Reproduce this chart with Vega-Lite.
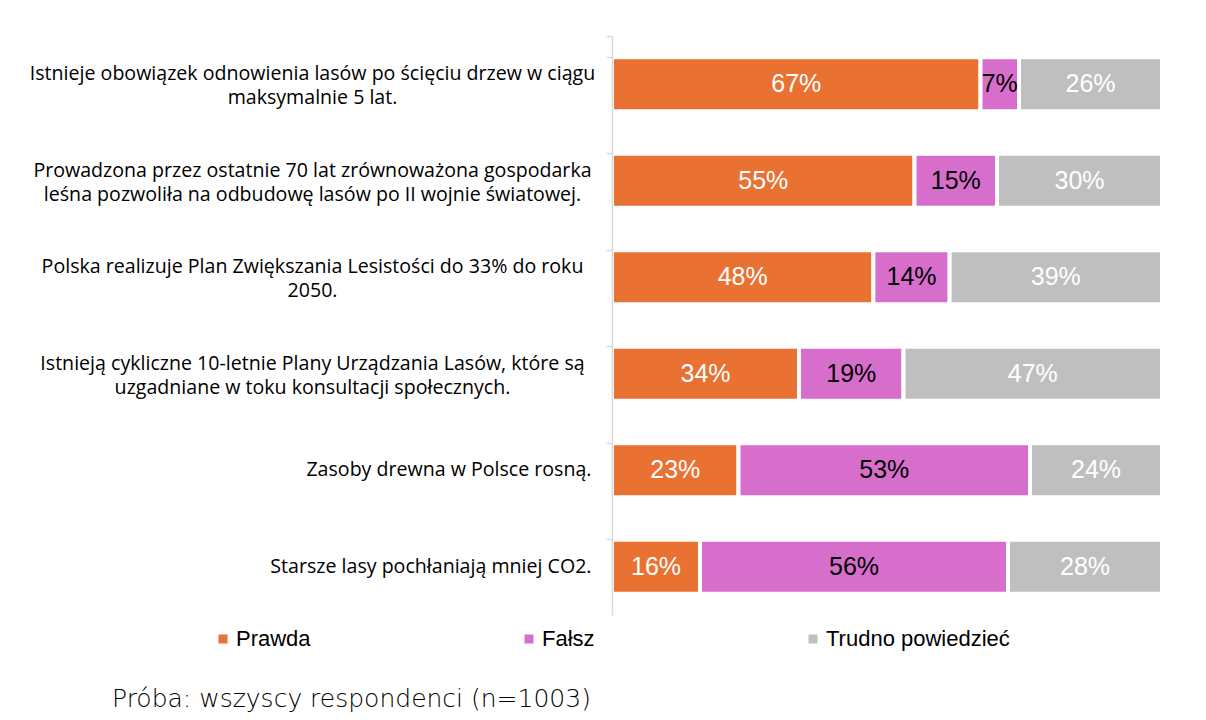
{
  "$schema": "https://vega.github.io/schema/vega-lite/v6.json",
  "autosize": {"type": "none"},
  "width": 550,
  "height": 579,
  "padding": {"left": 612, "top": 36, "right": 44, "bottom": 105},
  "background": "white",
  "config": {"view": {"stroke": null}},
  "title": {
    "text": "Próba: wszyscy respondenci (n=1003)",
    "orient": "bottom",
    "anchor": "start",
    "frame": "group",
    "dx": -500,
    "offset": 37,
    "font": "DejaVu Sans",
    "fontSize": 25,
    "fontWeight": 200,
    "color": "#000000"
  },
  "data": {
    "values": [
      {"q": "Istnieje obowiązek odnowienia lasów po ścięciu drzew w ciągu|maksymalnie 5 lat.", "cat": "Prawda", "order": 1, "value": 67},
      {"q": "Istnieje obowiązek odnowienia lasów po ścięciu drzew w ciągu|maksymalnie 5 lat.", "cat": "Fałsz", "order": 2, "value": 7},
      {"q": "Istnieje obowiązek odnowienia lasów po ścięciu drzew w ciągu|maksymalnie 5 lat.", "cat": "Trudno powiedzieć", "order": 3, "value": 26},
      {"q": "Prowadzona przez ostatnie 70 lat zrównoważona gospodarka|leśna pozwoliła na odbudowę lasów po II wojnie światowej.", "cat": "Prawda", "order": 1, "value": 55},
      {"q": "Prowadzona przez ostatnie 70 lat zrównoważona gospodarka|leśna pozwoliła na odbudowę lasów po II wojnie światowej.", "cat": "Fałsz", "order": 2, "value": 15},
      {"q": "Prowadzona przez ostatnie 70 lat zrównoważona gospodarka|leśna pozwoliła na odbudowę lasów po II wojnie światowej.", "cat": "Trudno powiedzieć", "order": 3, "value": 30},
      {"q": "Polska realizuje Plan Zwiększania Lesistości do 33% do roku|2050.", "cat": "Prawda", "order": 1, "value": 48},
      {"q": "Polska realizuje Plan Zwiększania Lesistości do 33% do roku|2050.", "cat": "Fałsz", "order": 2, "value": 14},
      {"q": "Polska realizuje Plan Zwiększania Lesistości do 33% do roku|2050.", "cat": "Trudno powiedzieć", "order": 3, "value": 39},
      {"q": "Istnieją cykliczne 10-letnie Plany Urządzania Lasów, które są|uzgadniane w toku konsultacji społecznych.", "cat": "Prawda", "order": 1, "value": 34},
      {"q": "Istnieją cykliczne 10-letnie Plany Urządzania Lasów, które są|uzgadniane w toku konsultacji społecznych.", "cat": "Fałsz", "order": 2, "value": 19},
      {"q": "Istnieją cykliczne 10-letnie Plany Urządzania Lasów, które są|uzgadniane w toku konsultacji społecznych.", "cat": "Trudno powiedzieć", "order": 3, "value": 47},
      {"q": "Zasoby drewna w Polsce rosną.", "cat": "Prawda", "order": 1, "value": 23},
      {"q": "Zasoby drewna w Polsce rosną.", "cat": "Fałsz", "order": 2, "value": 53},
      {"q": "Zasoby drewna w Polsce rosną.", "cat": "Trudno powiedzieć", "order": 3, "value": 24},
      {"q": "Starsze lasy pochłaniają mniej CO2.", "cat": "Prawda", "order": 1, "value": 16},
      {"q": "Starsze lasy pochłaniają mniej CO2.", "cat": "Fałsz", "order": 2, "value": 56},
      {"q": "Starsze lasy pochłaniają mniej CO2.", "cat": "Trudno powiedzieć", "order": 3, "value": 28}
    ]
  },
  "encoding": {
    "y": {
      "field": "q",
      "type": "nominal",
      "sort": null,
      "scale": {"paddingInner": 0.44, "paddingOuter": 0.22},
      "axis": {
        "title": null,
        "bandPosition": 0,
        "tickExtra": true,
        "labelExpr": "split(datum.label, '|')",
        "labelAlign": {"condition": {"test": "indexof(datum.label, '|') >= 0", "value": "center"}, "value": "right"},
        "labelPadding": {"condition": {"test": "indexof(datum.label, '|') >= 0", "value": 294}, "value": 15},
        "labelBaseline": "middle",
        "labelLineHeight": 24,
        "labelOffset": {"condition": {"test": "indexof(datum.label, '|') >= 0", "value": -10}, "value": 0},
        "labelFont": "Open Sans",
        "labelFontSize": 19.6,
        "labelColor": "#000000",
        "labelLimit": 800,
        "tickSize": 6,
        "tickColor": "#D9D9D9",
        "tickWidth": 1.5,
        "domainColor": "#D9D9D9",
        "domainWidth": 1.5,
        "zindex": 1
      }
    },
    "order": {"field": "order", "type": "quantitative"}
  },
  "layer": [
    {
      "mark": {"type": "bar", "stroke": "white", "strokeWidth": 4},
      "encoding": {
        "x": {"field": "value", "type": "quantitative", "stack": "normalize", "scale": {"domain": [0, 1], "nice": false}, "axis": null},
        "color": {
          "field": "cat",
          "type": "nominal",
          "sort": ["Prawda", "Fałsz", "Trudno powiedzieć"],
          "scale": {"domain": ["Prawda", "Fałsz", "Trudno powiedzieć"], "range": ["#E97132", "#D86ECC", "#BFBFBF"]},
          "legend": {
            "title": null,
            "orient": "none",
            "direction": "horizontal",
            "legendX": -400,
            "legendY": 592,
            "padding": 0,
            "columnPadding": 207,
            "symbolType": "square",
            "symbolSize": 81,
            "symbolStrokeWidth": 0,
            "labelOffset": 2,
            "labelFont": "Liberation Sans",
            "labelFontSize": 22,
            "labelColor": "#000000",
            "labelLimit": 400
          }
        }
      }
    },
    {
      "mark": {"type": "text", "font": "Liberation Sans", "fontSize": 25, "baseline": "middle", "align": "center", "text": {"expr": "datum.value + '%'"}},
      "encoding": {
        "x": {"field": "value", "type": "quantitative", "stack": "normalize", "bandPosition": 0.5},
        "detail": {"field": "cat", "type": "nominal"},
        "color": {"condition": {"test": "datum.cat === 'Fałsz'", "value": "#000000"}, "value": "#FFFFFF"}
      }
    }
  ]
}
